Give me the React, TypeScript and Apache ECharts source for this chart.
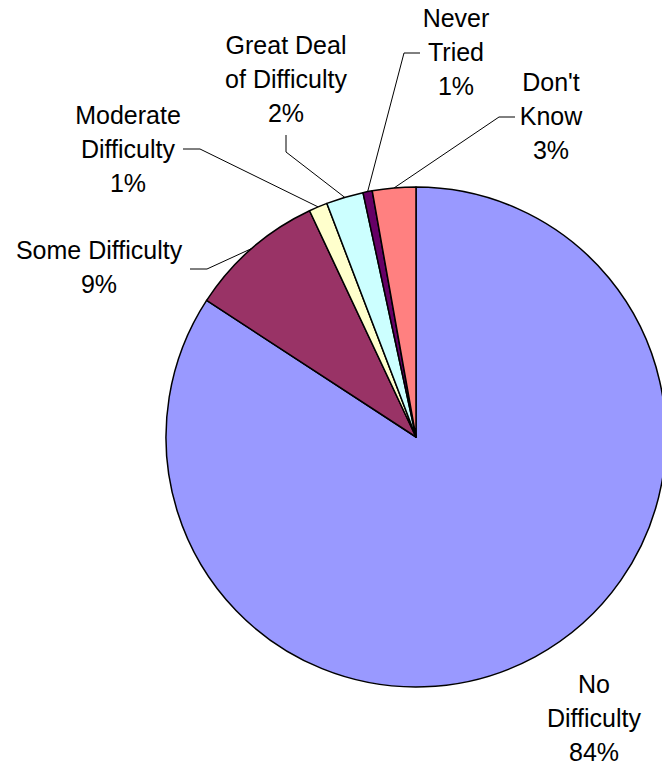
import React, { useEffect, useRef } from "react";
import * as echarts from "echarts";

const categories = [
  "No Difficulty",
  "Some Difficulty",
  "Moderate Difficulty",
  "Great Deal of Difficulty",
  "Never Tried",
  "Don't Know",
];
const labelTexts = [
  "No\nDifficulty",
  "Some Difficulty",
  "Moderate\nDifficulty",
  "Great Deal\nof Difficulty",
  "Never\nTried",
  "Don't\nKnow",
];
const values = [84.2, 8.8, 1.2, 2.4, 0.6, 2.8];
const colors = ["#9999FF", "#993366", "#FFFFCC", "#CCFFFF", "#660066", "#FF8080"];

// label layout: text centre, and leader elbow/end points
const labelPos: [number, number][] = [
  [594, 718],
  [99, 267],
  [128, 149],
  [286, 79],
  [456, 52],
  [551, 116],
];
const leaderPts: ([number, number][] | null)[] = [
  null,
  [[207, 269], [190, 269]],
  [[200, 149], [183, 149]],
  [[286, 152], [286, 135]],
  [[404, 53], [420, 53]],
  [[499, 117], [515, 117]],
];

export default function App() {
  const ref = useRef<HTMLDivElement>(null);
  useEffect(() => {
    document.body.style.margin = "0";
    const chart = echarts.init(ref.current!, null, { renderer: "svg" });
    chart.setOption({
      animation: false,
      backgroundColor: "#ffffff",
      series: [
        {
          type: "pie",
          center: [416, 437],
          radius: 250,
          startAngle: 90,
          clockwise: true,
          avoidLabelOverlap: false,
          itemStyle: { borderColor: "#000000", borderWidth: 1.5 },
          label: {
            show: true,
            position: "outside",
            fontFamily: "Liberation Sans, Arial, sans-serif",
            fontSize: 25,
            lineHeight: 34,
            color: "#000000",
            align: "center",
            formatter: (p: any) =>
              labelTexts[p.dataIndex] + "\n" + Math.round(p.percent) + "%",
          },
          labelLine: {
            show: true,
            lineStyle: { color: "#000000", width: 1 },
          },
          labelLayout: (p: any) => {
            const i = p.dataIndex;
            const pos = labelPos[i];
            const res: any = {
              x: pos[0],
              y: pos[1],
              align: "center",
              verticalAlign: "middle",
            };
            const lp = leaderPts[i];
            if (lp && p.labelLinePoints) {
              res.labelLinePoints = [p.labelLinePoints[0], lp[0], lp[1]];
            }
            return res;
          },
          data: categories.map((c, i) => ({
            name: c,
            value: values[i],
            itemStyle: { color: colors[i] },
            labelLine: { show: i !== 0 },
          })),
        },
      ],
    });
    return () => chart.dispose();
  }, []);
  return <div ref={ref} style={{ width: 662, height: 765 }} />;
}
